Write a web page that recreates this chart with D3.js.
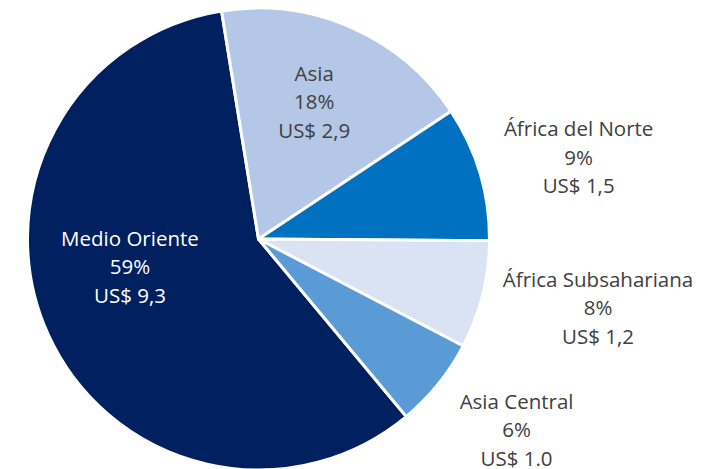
<!DOCTYPE html>
<html>
<head>
<meta charset="utf-8">
<script src="https://cdn.jsdelivr.net/npm/d3@7.9.0/dist/d3.min.js"></script>
<style>
  body { margin: 0; background: #fff; }
  svg text { font-family: "Open Sans", sans-serif; font-size: 20.5px; }
</style>
</head>
<body>
<svg width="715" height="469"></svg>
<script>
// Chart data
const regions = ['Medio Oriente', 'Asia', 'África del Norte', 'África Subsahariana', 'Asia Central'];
const amounts = [9.3, 2.9, 1.5, 1.2, 1.0];
const shares = ['59%', '18%', '9%', '8%', '6%'];
const amountLabels = ['US$ 9,3', 'US$ 2,9', 'US$ 1,5', 'US$ 1,2', 'US$ 1.0'];

const colors = ['#002060', '#b4c7e7', '#0070c0', '#dae3f3', '#5b9bd5'];
const textColors = ['#ffffff', '#404040', '#404040', '#404040', '#404040'];
// label placement: radius factor and angle shift (deg)
const labelR = [0.57, 0.64, 1.43, 1.5, 1.39];
const labelShift = [12, -1.5, 2.3, -2.5, -2.4];

const svg = d3.select('svg');
const cx = 258.5, cy = 239, R = 231;
const g = svg.append('g').attr('transform', `translate(${cx},${cy})`);

// Medio Oriente ends where Asia starts, slightly left of 12 o'clock
const asiaStart = -9.2 * Math.PI / 180;
const medioSpan = amounts[0] / d3.sum(amounts) * 2 * Math.PI;
const pie = d3.pie().sort(null).value(d => d)
  .startAngle(asiaStart - medioSpan)
  .endAngle(asiaStart - medioSpan + 2 * Math.PI);
const arcs = pie(amounts);
const arc = d3.arc().innerRadius(0).outerRadius(R);

g.selectAll('path')
  .data(arcs)
  .join('path')
  .attr('d', arc)
  .attr('fill', (d, i) => colors[i])
  .attr('stroke', '#fff')
  .attr('stroke-width', 3)
  .attr('stroke-linejoin', 'round');

// Labels
arcs.forEach((d, i) => {
  const a = (d.startAngle + d.endAngle) / 2 + labelShift[i] * Math.PI / 180;
  const r = R * labelR[i];
  const x = Math.sin(a) * r;
  const y = -Math.cos(a) * r;
  const t = g.append('text')
    .attr('text-anchor', 'middle')
    .attr('fill', textColors[i]);
  [regions[i], shares[i], amountLabels[i]].forEach((line, k) => {
    t.append('tspan')
      .attr('x', x)
      .attr('y', y + (k - 1) * 28.5 + 7)
      .text(line);
  });
});
</script>
</body>
</html>
